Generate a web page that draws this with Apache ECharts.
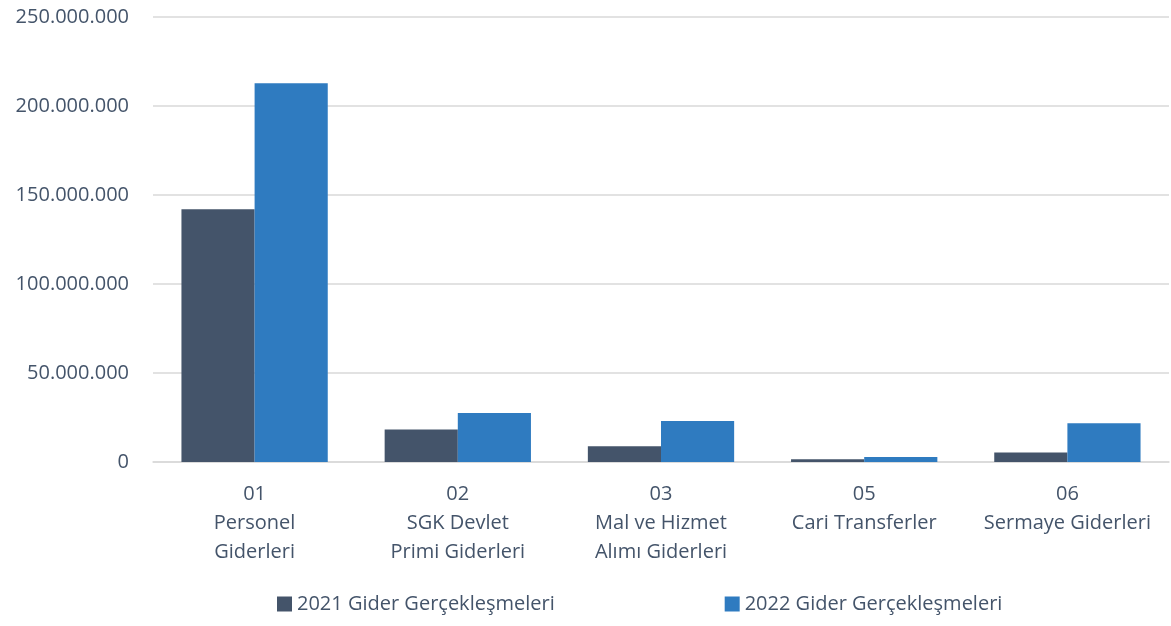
<!DOCTYPE html>
<html>
<head>
<meta charset="utf-8">
<script src="https://cdn.jsdelivr.net/npm/echarts@6/dist/echarts.min.js"></script>
<style>
  html, body { margin: 0; padding: 0; background: #fff; }
  #chart { width: 1171px; height: 626px; }
</style>
</head>
<body>
<div id="chart"></div>
<script>
// categories (economic code + name)
const categories = [
  "01\nPersonel\nGiderleri",
  "02\nSGK Devlet\nPrimi Giderleri",
  "03\nMal ve Hizmet\nAlımı Giderleri",
  "05\nCari Transferler",
  "06\nSermaye Giderleri"
];
const seriesNames = ["2021 Gider Gerçekleşmeleri", "2022 Gider Gerçekleşmeleri"];
const values2021 = [142000000, 18200000, 8800000, 1500000, 5300000];
const values2022 = [212800000, 27500000, 23000000, 2800000, 21700000];

const textColor = "#44546a";
const fontFam = "'Open Sans', 'Noto Sans', sans-serif";

function fmt(v) {
  return String(v).replace(/\B(?=(\d{3})+(?!\d))/g, ".");
}

const chart = echarts.init(document.getElementById("chart"));
chart.setOption({
  animation: false,
  textStyle: { fontFamily: fontFam },
  grid: { left: 153, right: 2, top: 17, bottom: 164 },
  legend: {
    data: seriesNames,
    icon: "rect",
    left: 272,
    bottom: 7,
    itemGap: 170,
    itemWidth: 15,
    itemHeight: 15,
    textStyle: { color: textColor, fontSize: 20, fontFamily: fontFam }
  },
  xAxis: {
    type: "category",
    data: categories,
    axisLine: { lineStyle: { color: "#d9d9d9", width: 1.5 } },
    axisTick: { show: false },
    axisLabel: {
      color: textColor,
      fontSize: 20,
      lineHeight: 29,
      margin: 18,
      interval: 0
    }
  },
  yAxis: {
    type: "value",
    min: 0,
    max: 250000000,
    interval: 50000000,
    axisLine: { show: false },
    axisTick: { show: false },
    splitLine: { lineStyle: { color: "#d9d9d9", width: 1.5 } },
    axisLabel: {
      color: textColor,
      fontSize: 20,
      margin: 24,
      formatter: fmt
    }
  },
  series: [
    {
      name: seriesNames[0],
      type: "bar",
      data: values2021,
      barGap: "0%",
      barCategoryGap: "28%",
      itemStyle: { color: "#44546a" }
    },
    {
      name: seriesNames[1],
      type: "bar",
      data: values2022,
      itemStyle: { color: "#2f7bc0" }
    }
  ]
});
</script>
</body>
</html>
